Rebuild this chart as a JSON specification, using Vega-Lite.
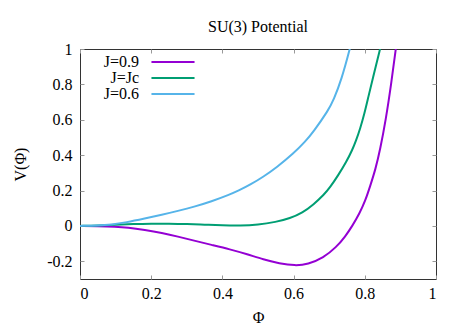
{
  "$schema": "https://vega.github.io/schema/vega-lite/v6.json",
  "width": 356,
  "height": 230,
  "autosize": {"type": "none"},
  "padding": {"left": 80, "top": 49, "right": 38, "bottom": 53},
  "background": "white",
  "config": {
    "font": "serif",
    "view": {"stroke": "#333", "strokeWidth": 1},
    "axis": {
      "grid": false, "domain": false, "tickColor": "#999", "tickSize": -4, "tickWidth": 1,
      "labelFontSize": 16, "labelColor": "#000", "labelFont": "serif",
      "titleFontSize": 16, "titleFontWeight": "normal", "titleColor": "#000", "titleFont": "serif"
    }
  },
  "title": {"text": "SU(3) Potential", "fontSize": 16, "fontWeight": "normal", "font": "serif", "color": "#000", "offset": -7, "anchor": "middle"},
  "data": {"values": [
    {"phi": 0, "V": 0, "J": "J=0.9"},
    {"phi": 0.05, "V": -0.001, "J": "J=0.9"},
    {"phi": 0.1, "V": -0.004, "J": "J=0.9"},
    {"phi": 0.134, "V": -0.009, "J": "J=0.9"},
    {"phi": 0.182, "V": -0.023, "J": "J=0.9"},
    {"phi": 0.23, "V": -0.04, "J": "J=0.9"},
    {"phi": 0.275, "V": -0.06, "J": "J=0.9"},
    {"phi": 0.32, "V": -0.083, "J": "J=0.9"},
    {"phi": 0.369, "V": -0.107, "J": "J=0.9"},
    {"phi": 0.421, "V": -0.132, "J": "J=0.9"},
    {"phi": 0.47, "V": -0.16, "J": "J=0.9"},
    {"phi": 0.515, "V": -0.19, "J": "J=0.9"},
    {"phi": 0.56, "V": -0.212, "J": "J=0.9"},
    {"phi": 0.604, "V": -0.225, "J": "J=0.9"},
    {"phi": 0.64, "V": -0.217, "J": "J=0.9"},
    {"phi": 0.684, "V": -0.18, "J": "J=0.9"},
    {"phi": 0.72, "V": -0.12, "J": "J=0.9"},
    {"phi": 0.745, "V": -0.06, "J": "J=0.9"},
    {"phi": 0.765, "V": 0.0, "J": "J=0.9"},
    {"phi": 0.785, "V": 0.07, "J": "J=0.9"},
    {"phi": 0.801, "V": 0.14, "J": "J=0.9"},
    {"phi": 0.815, "V": 0.225, "J": "J=0.9"},
    {"phi": 0.83, "V": 0.32, "J": "J=0.9"},
    {"phi": 0.843, "V": 0.43, "J": "J=0.9"},
    {"phi": 0.859, "V": 0.6, "J": "J=0.9"},
    {"phi": 0.874, "V": 0.8, "J": "J=0.9"},
    {"phi": 0.887, "V": 1.0, "J": "J=0.9"},
    {"phi": 0.895, "V": 1.12, "J": "J=0.9"},
    {"phi": 0, "V": 0, "J": "J=Jc"},
    {"phi": 0.05, "V": 0.002, "J": "J=Jc"},
    {"phi": 0.1, "V": 0.007, "J": "J=Jc"},
    {"phi": 0.15, "V": 0.011, "J": "J=Jc"},
    {"phi": 0.2, "V": 0.013, "J": "J=Jc"},
    {"phi": 0.25, "V": 0.013, "J": "J=Jc"},
    {"phi": 0.3, "V": 0.011, "J": "J=Jc"},
    {"phi": 0.35, "V": 0.007, "J": "J=Jc"},
    {"phi": 0.4, "V": 0.003, "J": "J=Jc"},
    {"phi": 0.45, "V": 0.001, "J": "J=Jc"},
    {"phi": 0.5, "V": 0.006, "J": "J=Jc"},
    {"phi": 0.55, "V": 0.022, "J": "J=Jc"},
    {"phi": 0.59, "V": 0.043, "J": "J=Jc"},
    {"phi": 0.625, "V": 0.075, "J": "J=Jc"},
    {"phi": 0.655, "V": 0.119, "J": "J=Jc"},
    {"phi": 0.686, "V": 0.178, "J": "J=Jc"},
    {"phi": 0.702, "V": 0.217, "J": "J=Jc"},
    {"phi": 0.725, "V": 0.285, "J": "J=Jc"},
    {"phi": 0.749, "V": 0.365, "J": "J=Jc"},
    {"phi": 0.765, "V": 0.43, "J": "J=Jc"},
    {"phi": 0.775, "V": 0.48, "J": "J=Jc"},
    {"phi": 0.787, "V": 0.55, "J": "J=Jc"},
    {"phi": 0.799, "V": 0.635, "J": "J=Jc"},
    {"phi": 0.81, "V": 0.73, "J": "J=Jc"},
    {"phi": 0.822, "V": 0.83, "J": "J=Jc"},
    {"phi": 0.843, "V": 1.0, "J": "J=Jc"},
    {"phi": 0.852, "V": 1.08, "J": "J=Jc"},
    {"phi": 0, "V": 0, "J": "J=0.6"},
    {"phi": 0.05, "V": 0.002, "J": "J=0.6"},
    {"phi": 0.088, "V": 0.007, "J": "J=0.6"},
    {"phi": 0.13, "V": 0.02, "J": "J=0.6"},
    {"phi": 0.182, "V": 0.042, "J": "J=0.6"},
    {"phi": 0.23, "V": 0.063, "J": "J=0.6"},
    {"phi": 0.275, "V": 0.085, "J": "J=0.6"},
    {"phi": 0.32, "V": 0.108, "J": "J=0.6"},
    {"phi": 0.369, "V": 0.138, "J": "J=0.6"},
    {"phi": 0.42, "V": 0.177, "J": "J=0.6"},
    {"phi": 0.444, "V": 0.198, "J": "J=0.6"},
    {"phi": 0.48, "V": 0.235, "J": "J=0.6"},
    {"phi": 0.515, "V": 0.278, "J": "J=0.6"},
    {"phi": 0.552, "V": 0.33, "J": "J=0.6"},
    {"phi": 0.6, "V": 0.41, "J": "J=0.6"},
    {"phi": 0.632, "V": 0.475, "J": "J=0.6"},
    {"phi": 0.655, "V": 0.53, "J": "J=0.6"},
    {"phi": 0.698, "V": 0.655, "J": "J=0.6"},
    {"phi": 0.712, "V": 0.71, "J": "J=0.6"},
    {"phi": 0.735, "V": 0.83, "J": "J=0.6"},
    {"phi": 0.758, "V": 1.0, "J": "J=0.6"},
    {"phi": 0.77, "V": 1.1, "J": "J=0.6"}
  ]},
  "layer": [
    {
      "mark": {"type": "line", "strokeWidth": 2, "clip": true, "interpolate": "basis"},
      "encoding": {
        "x": {"field": "phi", "type": "quantitative", "scale": {"domain": [0, 1], "nice": false},
          "axis": {"orient": "bottom", "values": [0, 0.2, 0.4, 0.6, 0.8, 1], "labelExpr": "'' + datum.value", "labelFont": "serif", "labelFontSize": 16, "title": "Φ", "labelPadding": 10, "titlePadding": 8}},
        "y": {"field": "V", "type": "quantitative", "scale": {"domain": [-0.3, 1], "nice": false, "zero": false},
          "axis": {"orient": "left", "values": [-0.2, 0, 0.2, 0.4, 0.6, 0.8, 1], "labelExpr": "'' + datum.value", "labelFont": "serif", "labelFontSize": 16, "title": "V(Φ)", "labelPadding": 12, "titlePadding": 18}},
        "color": {"field": "J", "type": "nominal",
          "scale": {"domain": ["J=0.9", "J=Jc", "J=0.6"], "range": ["#9400D3", "#009E73", "#56B4E9"]},
          "legend": {"orient": "none", "legendX": 85, "legendY": 5, "title": null, "symbolType": "M-4,0H4", "symbolStrokeWidth": 2, "symbolSize": 116,
            "labelFontSize": 16, "labelFont": "serif", "labelColor": "#000", "rowPadding": 0,
            "encode": {"labels": {"update": {"x": {"value": -26}, "align": {"value": "right"}}}}}
        }
      }
    },
    {
      "mark": {"type": "line", "opacity": 0},
      "encoding": {
        "x": {"field": "phi", "type": "quantitative", "axis": {"orient": "top", "values": [0, 0.2, 0.4, 0.6, 0.8, 1], "labels": false, "title": null}},
        "y": {"field": "V", "type": "quantitative", "axis": {"orient": "right", "values": [-0.2, 0, 0.2, 0.4, 0.6, 0.8, 1], "labels": false, "title": null}}
      }
    }
  ],
  "resolve": {"axis": {"x": "independent", "y": "independent"}}
}
